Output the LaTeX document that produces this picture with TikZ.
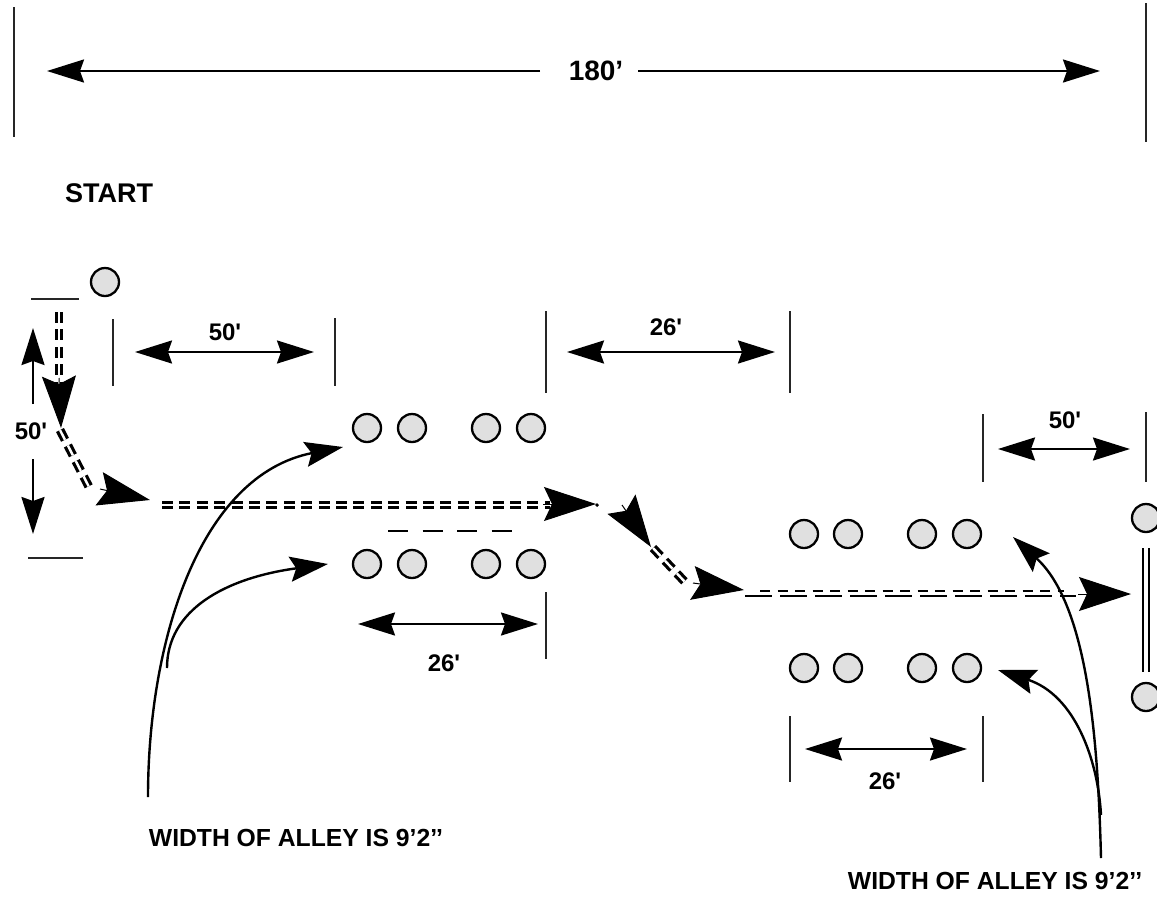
\documentclass[tikz,border=0pt]{standalone}
\usepackage{fontspec}
\newfontfamily\lblfont{Liberation Sans}
\usetikzlibrary{arrows.meta, positioning}
\tikzset{
  post/.style={circle, draw, line width=2.3pt, fill=black!12, minimum size=28pt, inner sep=0pt},
  tick/.style={line width=2.4pt, black!85},
  dim/.style={line width=2.4pt, {Stealth[length=37pt,width=23pt,inset=4pt]}-{Stealth[length=37pt,width=23pt,inset=4pt]}},
  dimend/.style={line width=2.4pt, -{Stealth[length=37pt,width=23pt,inset=4pt]}},
  curve/.style={line width=2.4pt, -{Stealth[length=38pt,width=25pt,inset=6pt]}},
  bighead/.style={line width=1pt, -{Stealth[length=52pt,width=34pt,inset=8pt]}},
  lane/.style={line width=3.2pt, double distance=2.4pt, dash pattern=on 11pt off 6.4pt},
  lbl/.style={font=\lblfont\bfseries\fontsize{24}{28}\selectfont, inner sep=0pt},
  note/.style={font=\lblfont\bfseries\fontsize{24.7}{28}\selectfont, inner sep=0pt}
}
\begin{document}
\begin{tikzpicture}[x=1pt,y=-1pt]
\useasboundingbox (0,0) rectangle (1157,898);
% posts
\node[post] (p0) at (105,282) {};
\foreach \n/\x in {a/367,b/412,c/486,d/531} {
  \node[post] (\n1) at (\x,428) {};
  \node[post] (\n2) at (\x,564) {};
}
\foreach \n/\x in {e/804,f/848,g/922,h/967} {
  \node[post] (\n1) at (\x,534) {};
  \node[post] (\n2) at (\x,668) {};
}
\node[post] (r1) at (1146,518) {};
\node[post] (r2) at (1146,697) {};
% ticks
\draw[tick] (14,7) -- (14,137);
\draw[tick] (1146,3) -- (1146,142);
\draw[tick] (31,299) -- (79,299);
\draw[tick] (28,558) -- (83,558);
\draw[tick] (113,319) -- (113,386);
\draw[tick] (335,318) -- (335,386);
\draw[tick] (546,311) -- (546,393);
\draw[tick] (790,311) -- (790,393);
\draw[tick] (546,592) -- (546,659);
\draw[tick] (983,414) -- (983,482);
\draw[tick] (1146,412) -- (1146,482);
\draw[tick] (790,716) -- (790,782);
\draw[tick] (983,716) -- (983,782);
% top dimension
\node[lbl, font=\lblfont\bfseries\fontsize{28}{32}\selectfont] (top) at (596,71) {180’};
\coordinate (topl) at (47,71);
\coordinate (topla) at (540,71);
\coordinate (topr) at (1100,71);
\coordinate (topra) at (638,71);
\draw[dimend] (topla) -- (topl);
\draw[dimend] (topra) -- (topr);
\node[lbl, font=\lblfont\bfseries\fontsize{27}{32}\selectfont] (start) at (109,193) {START};
% left dimension
\node[lbl] (lft) at (31,431) {50'};
\coordinate (lftu) at (33,328);
\coordinate (lftua) at (33,404);
\coordinate (lftd) at (33,534);
\coordinate (lftda) at (33,459);
\draw[dimend] (lftua) -- (lftu);
\draw[dimend] (lftda) -- (lftd);
% other dimensions
\coordinate (d1a) at (135,352); \coordinate (d1b) at (314,352);
\coordinate (d2a) at (567,352); \coordinate (d2b) at (775,352);
\coordinate (d3a) at (358,624); \coordinate (d3b) at (538,624);
\coordinate (d4a) at (998,449); \coordinate (d4b) at (1130,449);
\coordinate (d5a) at (805,749); \coordinate (d5b) at (967,749);
\draw[dim] (d1a) -- (d1b);
\draw[dim] (d2a) -- (d2b);
\draw[dim] (d3a) -- (d3b);
\draw[dim] (d4a) -- (d4b);
\draw[dim] (d5a) -- (d5b);
\node[lbl] (t1) at (225,332) {50'};
\node[lbl] (t2) at (666,327) {26'};
\node[lbl] (t3) at (444,663) {26'};
\node[lbl] (t4) at (1065,420) {50'};
\node[lbl] (t5) at (885,781) {26'};
% route
\coordinate (s1) at (59,312); \coordinate (s1b) at (59,384); \coordinate (s1t) at (61,428);
\coordinate (s2) at (60,430); \coordinate (s2b) at (89,487);
\coordinate (s2h) at (100,489); \coordinate (s2t) at (150,500);
\coordinate (s3) at (162,505); \coordinate (s3b) at (550,505);
\coordinate (s3h) at (543,504); \coordinate (s3t) at (596,504);
\coordinate (s4h) at (622,505); \coordinate (s4t) at (651,547);
\coordinate (s5) at (653,548); \coordinate (s5b) at (685,582);
\coordinate (s5h) at (693,583); \coordinate (s5t) at (744,590);
\coordinate (s6h) at (1078,594); \coordinate (s6t) at (1131,594);
\coordinate (s6a) at (745,596); \coordinate (s6b) at (1076,596);
\coordinate (s6c) at (760,591); \coordinate (s6d) at (1064,591);
\draw[lane] (s1) -- (s1b);
\draw[bighead] (59,378) -- (s1t);
\draw[lane] (s2) -- (s2b);
\draw[bighead] (s2h) -- (s2t);
\draw[lane] (s3) -- (s3b);
\draw[bighead] (s3h) -- (s3t);
\draw[line width=2.6pt] (s3t) -- ++(2,2);
\draw[bighead] (s4h) -- (s4t);
\draw[lane] (s5) -- (s5b);
\draw[bighead] (s5h) -- (s5t);
\draw[line width=2.6pt, dash pattern=on 27pt off 8pt] (s6a) -- (s6b);
\draw[line width=2.6pt, dash pattern=on 10pt off 7.5pt] (s6c) -- (s6d);
\draw[bighead] (s6h) -- (s6t);
\coordinate (m1) at (388,531); \coordinate (m2) at (512,531);
\draw[line width=2.6pt, dash pattern=on 20pt off 14.5pt] (m1) -- (m2);
% gate
\coordinate (g1) at (1146,548); \coordinate (g2) at (1146,672);
\draw[line width=2.2pt, double distance=3.8pt] (g1) -- (g2);
% notes
\node[note] (w1) at (296,838) {WIDTH OF ALLEY IS 9’2’’};
\node[note] (w2) at (995,881) {WIDTH OF ALLEY IS 9’2’’};
\coordinate (w1a) at (148,797); \coordinate (w1b) at (167,668);
\coordinate (w1c) at (343,447); \coordinate (w1d) at (328,564);
\coordinate (w2a) at (1101,858); \coordinate (w2b) at (1101,815);
\coordinate (w2c) at (1013,537); \coordinate (w2d) at (998,670);
\draw[curve] (w1a) .. controls (148,640) and (200,475) .. (w1c);
\draw[curve] (w1b) .. controls (167,610) and (225,578) .. (w1d);
\draw[curve] (w2a) .. controls (1098,740) and (1088,605) .. (w2c);
\draw[curve] (w2b) .. controls (1098,760) and (1075,695) .. (w2d);
\end{tikzpicture}
\end{document}
